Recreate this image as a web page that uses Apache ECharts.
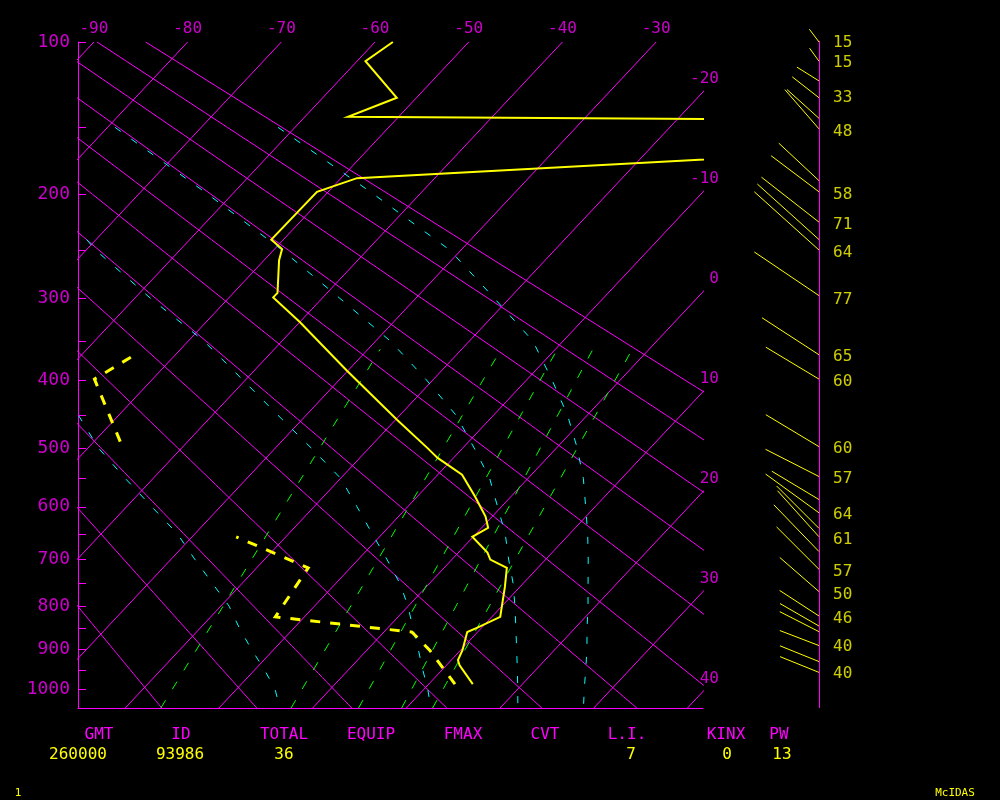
<!DOCTYPE html>
<html><head><meta charset="utf-8">
<script src="https://cdn.jsdelivr.net/npm/echarts@6/dist/echarts.min.js"></script>
<style>html,body{margin:0;padding:0;background:#000}#c{width:1000px;height:800px}</style>
</head><body><div id="c"></div>
<script>
// ---------- chart data ----------
const isotherms = [-90,-80,-70,-60,-50,-40,-30,-20,-10,0,10,20,30,40];          // deg C
const dryAdiabats = [-20,-10,0,10,20,30,40,50,60,70,80,90];                       // theta, deg C
const pressureTicks = [100,150,200,250,300,350,400,450,500,550,600,650,700,750,800,850,900,950,1000];
const pressureLabels = [100,200,300,400,500,600,700,800,900,1000];

// saturated adiabats (cyan), temperature read at pressure levels
const moistLevelsAB = [150,200,250,300,350,400,450,500,550,600,650,700,750,800,850,900,950,1000,1050];
const moistA = [-61.8,-44.9,-31.2,-21.6,-13.2,-7.3,-2.1,2.2,5.9,9.0,11.9,14.5,16.9,19.2,21.3,23.4,25.3,27.1,28.9];
const moistB = [-79.2,-62.6,-49.1,-38.1,-28.4,-20.7,-14.0,-8.8,-4.1,-0.4,3.1,6.0,8.9,11.4,13.7,15.9,18.0,20.0,21.9];
const moistLevelsC = [240,250,300,350,400,450,500,550,600,650,700,750,800,850,900,950,1000,1050];
const moistC = [-71.0,-69.0,-58.3,-48.3,-40.3,-33.0,-26.2,-20.0,-15.4,-11.1,-7.0,-3.2,0.0,2.7,5.4,7.9,10.4,12.6];
const moistLevelsD = [450,500,550,600,650,700,750,800,850,900,950,1000,1050];
const moistD = [-54.3,-48.9,-43.0,-37.3,-31.9,-27.5,-23.2,-19.1,-15.8,-12.4,-9.0,-5.9,-3.5];

// mixing-ratio lines (green), g/kg, from 1050 hPa up to 360 hPa
const mixRatio = [1,3,5,7,9];
const mixPBottom = 1050, mixPTop = 360;
const mixTBottom = [-16.2,-2.3,4.9,9.5,12.8];
const mixTTop = [-28.7,-15.8,-9.8,-6.0,-1.8];

// sounding: temperature
const tempP = [987,939,926,902,859,849,824,758,718,701,687,656,639,618,582,544,516,500,457,387,327,299,294,260,249,240,198,187,147,143,131,110,100];
const tempT = [14.7,11.4,10.7,10.2,8.9,9.5,10.9,8.4,6.7,4.1,3.1,-0.1,0.7,-0.7,-3.8,-7.4,-11.7,-13.8,-19.8,-30.2,-40.0,-45.3,-45.3,-48.4,-49.2,-51.3,-51.2,-48.3,56.0,-55.4,-52.1,-59.1,-58.1];
// sounding: dewpoint (null = missing)
const dewP = [987,902,859,824,718,656,570,490,399,365];
const dewT = [12.8,6.7,3.0,-13.1,-14.5,-25.3,null,-47.2,-56.2,-54.2];

// winds
const windP   = [100,110,121,131,144,151,189,198,224,240,250,297,367,399,498,547,587,611,640,656,685,721,768,822,845,858,891,930,957];
const windDir = [323,324,302,308,312,319,313,307,308,312,312,304,303,301,301,297,301,306,315,318,316,315,311,303,300,297,291,292,292];
const windSpd = [16,16,26,34,43,52,55,60,73,83,87,78,68,62,62,60,55,66,60,62,65,60,52,47,45,44,42,42,42];
const windLabelP = [100.3,110.7,131.1,153.1,200.2,226.1,252.3,301.2,369.6,402.6,502.2,550.9,614.5,661.9,725.9,775.0,828.3,894.2,961.3];
const windLabelText = ['15','15','33','48','58','71','64','77','65','60','60','57','64','61','57','50','46','40','40'];

// indices table
const statNames  = ['GMT','ID','TOTAL','EQUIP','FMAX','CVT','L.I.','KINX','PW'];
const statValues = ['260000','93986','36','','','','7','0','13'];

// ---------- diagram geometry ----------
const KAPPA = 0.286, P_TOP = 100, P_BOT = 1050, SKEW = 18.62;
const X_MIN = -91.7, X_MAX = -25.0;
const sk = p => Math.pow(p, KAPPA);
const S_TOP = sk(P_TOP), S_BOT = sk(P_BOT);
const xy = (T, p) => [T - SKEW * (sk(p) - S_TOP), sk(p)];

const MAG = '#ff00ff', YEL = '#ffff00', CYA = '#00ffff', GRN = '#00ff00';
const FONT = "'DejaVu Sans Mono', monospace";

function line(data, color, width, type, z) {
  return {type:'line', xAxisIndex:0, yAxisIndex:0, data, symbol:'none', showSymbol:false,
    silent:true, clip:true, animation:false, z,
    lineStyle:{color, width, type: type || 'solid', cap:'butt', join:'miter'}};
}

const series = [];
// isotherms
isotherms.forEach(T => series.push(line([xy(T, P_TOP), xy(T, P_BOT)], MAG, 1, 'solid', 1)));
// dry adiabats
dryAdiabats.forEach(th => {
  const d = [];
  for (let p = P_TOP; p <= P_BOT; p += 10) {
    const T = (th + 273.5) * Math.pow(p / 1000, 0.2848) - 273.15;
    d.push(xy(T, p));
  }
  series.push(line(d, MAG, 1, 'solid', 1));
});
// saturated adiabats
[[moistLevelsAB, moistA], [moistLevelsAB, moistB], [moistLevelsC, moistC], [moistLevelsD, moistD]].forEach(([lv, ts]) => {
  series.push(line(lv.map((p, i) => xy(ts[i], p)), CYA, 1, [7, 13], 2));
});
// mixing ratio lines
mixRatio.forEach((w, i) => {
  series.push(line([xy(mixTBottom[i], mixPBottom), xy(mixTTop[i], mixPTop)], GRN, 1, [9, 13], 2));
});
// temperature
series.push(line(tempP.map((p, i) => xy(tempT[i], p)), YEL, 2, 'solid', 4));
// dewpoint (split at missing values)
let seg = [];
dewP.forEach((p, i) => {
  if (dewT[i] == null) { if (seg.length) series.push(line(seg, YEL, 3, [10, 10], 4)); seg = []; }
  else seg.push(xy(dewT[i], p));
});
if (seg.length) series.push(line(seg, YEL, 3, [10, 10], 4));

// pressure ticks
series.push({type:'custom', xAxisIndex:0, yAxisIndex:0, silent:true, animation:false, clip:false, z:5,
  data: pressureTicks.map(p => [X_MIN, sk(p)]),
  renderItem: (params, api) => {
    const c = api.coord([api.value(0), api.value(1)]);
    return {type:'rect', shape:{x:Math.round(c[0]), y:Math.round(c[1]), width:8, height:1}, style:{fill:MAG}};
  }});
// pressure labels
series.push({type:'scatter', xAxisIndex:0, yAxisIndex:0, symbolSize:0, silent:true, animation:false, clip:false,
  data: pressureLabels.map(p => [X_MIN, sk(p), p]),
  label:{show:true, position:'left', distance:8, color:MAG, fontSize:18, fontFamily:FONT,
    formatter: q => String(q.value[2])}});
// isotherm labels along top
series.push({type:'scatter', xAxisIndex:0, yAxisIndex:0, symbolSize:0, silent:true, animation:false, clip:false,
  data: isotherms.filter(T => T >= X_MIN && T <= X_MAX).map(T => [T, S_TOP, T]),
  label:{show:true, position:'top', distance:5, color:MAG, fontSize:16, fontFamily:FONT,
    formatter: q => String(q.value[2])}});
// isotherm labels along right edge
series.push({type:'scatter', xAxisIndex:0, yAxisIndex:0, symbolSize:0, silent:true, animation:false, clip:false,
  data: isotherms.filter(T => T > X_MAX).map(T => [X_MAX, S_TOP + (T - X_MAX) / SKEW, T]),
  label:{show:true, position:[16, -13], align:'right', verticalAlign:'middle', color:MAG, fontSize:16, fontFamily:FONT,
    formatter: q => String(q.value[2])}});
// wind staff (vertical reference line of the wind panel)
series.push({type:'custom', xAxisIndex:1, yAxisIndex:1, silent:true, animation:false, clip:false, z:3,
  data: [[0, S_TOP, S_BOT]],
  renderItem: (params, api) => {
    const a = api.coord([0, api.value(1)]), b = api.coord([0, api.value(2)]);
    return {type:'rect', shape:{x:Math.round(a[0]), y:Math.round(a[1]) - 1, width:1, height:Math.round(b[1] - a[1]) + 1}, style:{fill:MAG}};
  }});
// wind shafts
series.push({type:'custom', xAxisIndex:1, yAxisIndex:1, silent:true, animation:false, clip:false, z:4,
  data: windP.map((p, i) => [0, sk(p), windDir[i], windSpd[i]]),
  renderItem: (params, api) => {
    const c = api.coord([0, api.value(1)]);
    const unit = api.size([1, 0])[0];
    const a = api.value(2) * Math.PI / 180, L = api.value(3) * unit;
    return {type:'line', shape:{x1:c[0], y1:c[1], x2:c[0] + Math.sin(a) * L, y2:c[1] - Math.cos(a) * L},
      style:{stroke:YEL, lineWidth:1}};
  }});
// wind speed labels
series.push({type:'scatter', xAxisIndex:1, yAxisIndex:1, symbolSize:0, silent:true, animation:false, clip:false,
  data: windLabelP.map((p, i) => [0, sk(p), windLabelText[i]]),
  label:{show:true, position:'right', distance:14, color:YEL, fontSize:16, fontFamily:FONT,
    formatter: q => String(q.value[2])}});

// bottom text table (layout positions only)
const nameX = [99,181,284,371,463,545,627,726,779];
const valX  = [78,180,284,371,463,545,631,727,782];
const graphic = [];
statNames.forEach((s, i) => graphic.push({type:'text', x:nameX[i], y:735,
  style:{text:s, fill:MAG, font:'16px ' + FONT, align:'center', verticalAlign:'middle', textAlign:'center', textVerticalAlign:'middle'}}));
statValues.forEach((s, i) => { if (s) graphic.push({type:'text', x:valX[i], y:755,
  style:{text:s, fill:YEL, font:'16px ' + FONT, align:'center', verticalAlign:'middle', textAlign:'center', textVerticalAlign:'middle'}}); });
graphic.push({type:'text', x:18, y:793, style:{text:'1', fill:YEL, font:'11px ' + FONT, align:'center', verticalAlign:'middle', textAlign:'center', textVerticalAlign:'middle'}});
graphic.push({type:'text', x:955, y:793, style:{text:'McIDAS', fill:YEL, font:'11px ' + FONT, align:'center', verticalAlign:'middle', textAlign:'center', textVerticalAlign:'middle'}});

const hiddenAxisParts = {axisTick:{show:false}, axisLabel:{show:false}, splitLine:{show:false}};
const chart = echarts.init(document.getElementById('c'), null, {renderer:'canvas'});
chart.setOption({
  backgroundColor:'#000000',
  animation:false,
  grid:[
    {left:78, top:42, width:625, height:666},
    {left:739, top:42, width:80, height:666}
  ],
  xAxis:[
    Object.assign({type:'value', gridIndex:0, min:X_MIN, max:X_MAX, axisLine:{show:true, onZero:false, lineStyle:{color:MAG, width:1}}}, hiddenAxisParts),
    Object.assign({type:'value', gridIndex:1, min:-80, max:0, show:false}, hiddenAxisParts)
  ],
  yAxis:[
    Object.assign({type:'value', gridIndex:0, inverse:true, min:S_TOP, max:S_BOT, axisLine:{show:true, onZero:false, lineStyle:{color:MAG, width:1}}}, hiddenAxisParts),
    Object.assign({type:'value', gridIndex:1, inverse:true, min:S_TOP, max:S_BOT, show:false}, hiddenAxisParts)
  ],
  series,
  graphic
});
</script></body></html>
